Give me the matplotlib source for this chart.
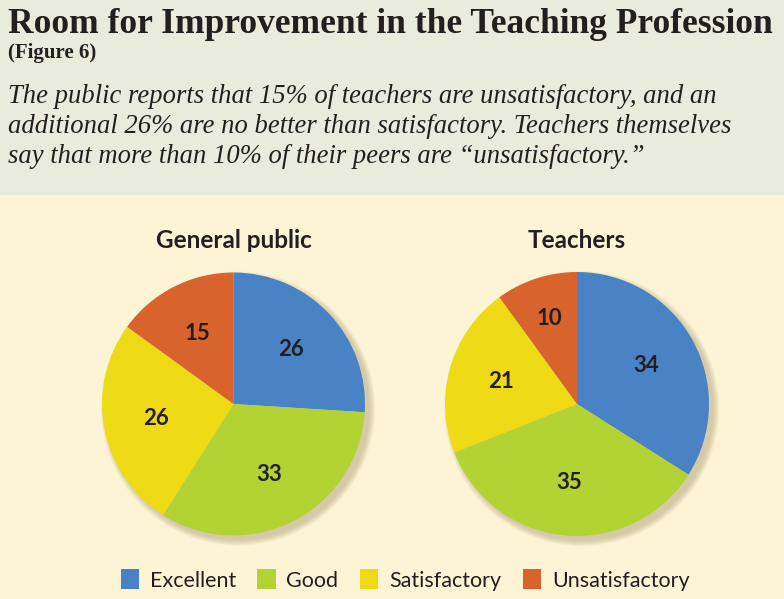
import numpy as np
import matplotlib.pyplot as plt
from matplotlib.patches import Rectangle, Circle

# Data
categories = ["Excellent", "Good", "Satisfactory", "Unsatisfactory"]
public_vals = [26, 33, 26, 15]
teacher_vals = [34, 35, 21, 10]
colors = ["#4a83c5", "#b3d234", "#eedb16", "#d9632c"]

W, H = 784, 599
fig = plt.figure(figsize=(W / 100, H / 100), dpi=100)
fig.patch.set_facecolor("#fdf4d5")

# header band
fig.patches.append(Rectangle((0, (H - 195) / H), 1, 195 / H, transform=fig.transFigure,
                             facecolor="#e9ebdc", edgecolor="none", zorder=0))

ink = "#231f20"
fig.text(8 / W, 1 - 33 / H, "Room for Improvement in the Teaching Profession",
         family="Liberation Serif", weight="bold", fontsize=25.5, color=ink, va="baseline")
fig.text(8 / W, 1 - 58 / H, "(Figure 6)", family="Liberation Serif", weight="bold",
         fontsize=15, color=ink, va="baseline")
sub = ["The public reports that 15% of teachers are unsatisfactory, and an",
       "additional 26% are no better than satisfactory. Teachers themselves",
       "say that more than 10% of their peers are \u201cunsatisfactory.\u201d"]
for i, line in enumerate(sub):
    fig.text(8 / W, 1 - (103 + 30 * i) / H, line, family="Liberation Serif",
             style="italic", fontsize=19.2, color=ink, va="baseline")


def draw_pie(cx, cy, r, vals, title):
    ax = fig.add_axes([(cx - r) / W, (H - cy - r) / H, 2 * r / W, 2 * r / H])
    # soft shadow
    for k in range(8):
        ax.add_patch(Circle((0.035, -0.035), 1.0 + 0.006 * k, facecolor="#a89c78",
                            edgecolor="none", alpha=0.07, zorder=0, clip_on=False))
    wedges, _ = ax.pie(vals, colors=colors, startangle=90, counterclock=False,
                       radius=1, wedgeprops=dict(linewidth=0))
    for w in wedges:
        w.set_zorder(2)
    for w, v in zip(wedges, vals):
        ang = np.deg2rad((w.theta1 + w.theta2) / 2)
        d = 0.6 if v > 12 else 0.68
        ax.text(d * np.cos(ang), d * np.sin(ang), str(v), ha="center", va="center",
                family="Lato", weight="bold", fontsize=16, color=ink, zorder=3)
    ax.set_xlim(-1, 1)
    ax.set_ylim(-1, 1)
    ax.set_aspect("equal")
    ax.axis("off")
    fig.text(cx / W, 1 - 241 / H, title, ha="center", va="center", family="Lato",
             weight="bold", fontsize=17.5, color=ink)
    return wedges


wedges = draw_pie(233.5, 404, 131.5, public_vals, "General public")
draw_pie(577, 404, 132, teacher_vals, "Teachers")

leg = fig.legend(wedges, categories, loc="center", bbox_to_anchor=(405 / W, 1 - 580 / H),
                 ncol=4, frameon=False, handlelength=0.85, handleheight=1.0,
                 handletextpad=0.5, columnspacing=1.0,
                 prop=dict(family="Lato", size=15.5))
for t in leg.get_texts():
    t.set_color(ink)

fig.savefig("out.png", dpi=100, facecolor=fig.get_facecolor())
